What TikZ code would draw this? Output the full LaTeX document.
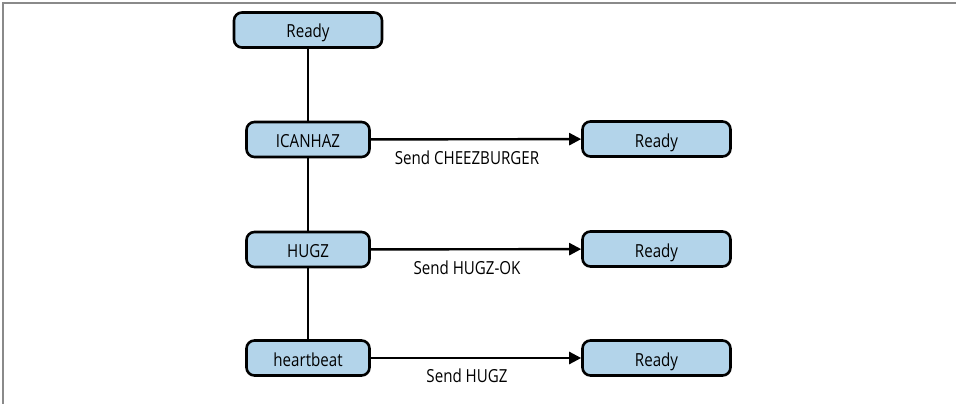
\documentclass[tikz,border=0pt]{standalone}
\usepackage{fontspec}
\setmainfont[FakeStretch=0.84]{Open Sans}
\usetikzlibrary{arrows.meta}
\definecolor{boxblue}{HTML}{B3D4EA}
\definecolor{framegray}{HTML}{8A8A8A}
\begin{document}
\begin{tikzpicture}[x=1pt,y=-1pt,
  state/.style={draw=black,line width=2.6pt,fill=boxblue,rounded corners=8pt,
    minimum height=35pt,inner sep=0pt,text height=16pt,text depth=0pt,
    font=\fontsize{18}{21}\selectfont},
  wide/.style={state,minimum width=148pt},
  narrow/.style={state,minimum width=123pt},
  link/.style={line width=2.4pt},
  send/.style={line width=2.4pt,-{Triangle[length=12pt,width=12pt]}},
  lbl/.style={font=\fontsize{18}{21}\selectfont,inner sep=0pt,xshift=-9pt}]
\useasboundingbox (0,0) rectangle (956,404);
\draw[framegray,line width=1.4pt] (3,404) -- (3,3) -- (956,3);
\node[wide] (r0) at (308,30) {Ready};
\node[narrow] (ic) at (308,139.5) {ICANHAZ};
\node[narrow] (hg) at (308,249.5) {HUGZ};
\node[narrow] (hb) at (308,358) {heartbeat};
\node[wide] (r1) at (656.5,139) {Ready};
\node[wide] (r2) at (656.5,249) {Ready};
\node[wide] (r3) at (656.5,358) {Ready};
\draw[link] (r0) -- (ic);
\draw[link] (ic) -- (hg);
\draw[link] (hg) -- (hb);
\draw[send] (ic) -- (r1) node[lbl,pos=0.5,below=10pt] {Send CHEEZBURGER};
\draw[send] (hg) -- (r2) node[lbl,pos=0.5,below=10pt] {Send HUGZ-OK};
\draw[send] (hb) -- (r3) node[lbl,pos=0.5,below=10pt] {Send HUGZ};
\end{tikzpicture}
\end{document}
